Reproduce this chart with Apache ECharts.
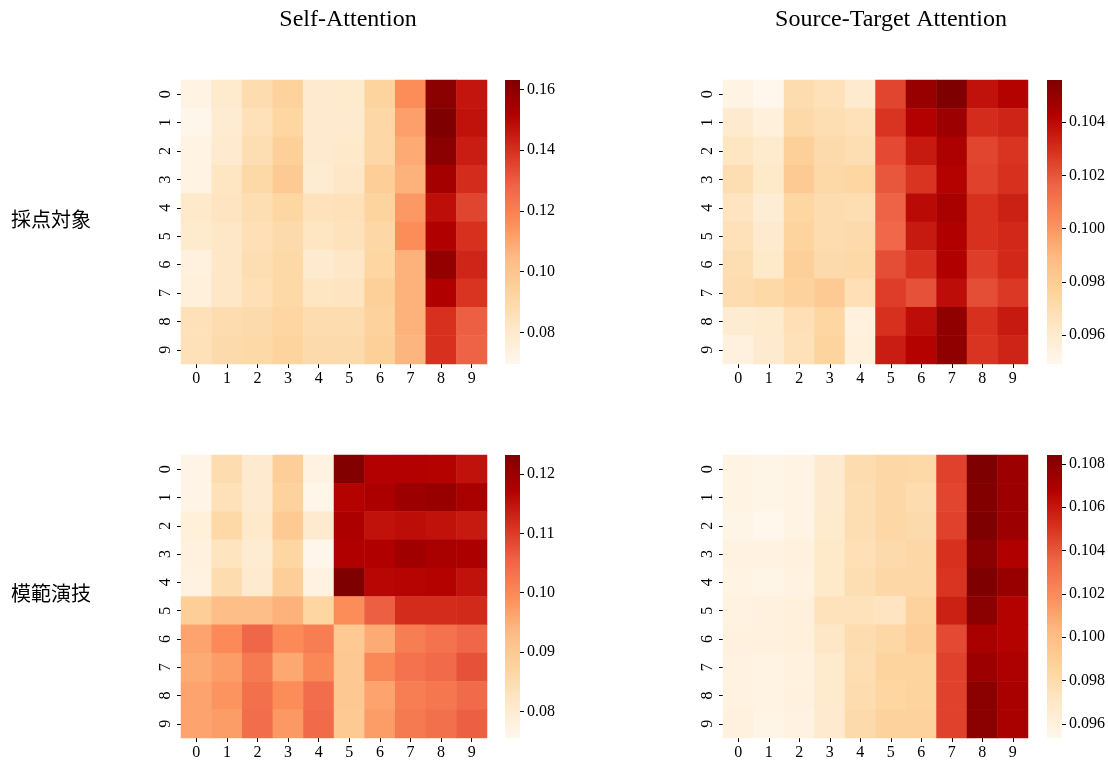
<!DOCTYPE html>
<html>
<head>
<meta charset="utf-8">
<script src="https://cdn.jsdelivr.net/npm/echarts@6/dist/echarts.min.js"></script>
<style>html,body{margin:0;padding:0;background:#fff}#c{width:1108px;height:762px}</style>
</head>
<body>
<div id="c"></div>
<script>
// ---------- data ----------
const categories = ['0','1','2','3','4','5','6','7','8','9'];
const columnTitles = ['Self-Attention', 'Source-Target Attention'];
const rowTitles = ['採点対象', '模範演技'];

// Self-Attention / 採点対象 (rows 0-9, cols 0-9)
const selfAttnTarget = [
  [0.0724,0.0799,0.0883,0.0939,0.0790,0.0799,0.0930,0.1164,0.1603,0.1463],
  [0.0700,0.0780,0.0855,0.0920,0.0790,0.0790,0.0911,0.1117,0.1631,0.1472],
  [0.0724,0.0790,0.0874,0.0948,0.0790,0.0808,0.0911,0.1089,0.1603,0.1444],
  [0.0724,0.0827,0.0902,0.0977,0.0780,0.0818,0.0958,0.1070,0.1547,0.1407],
  [0.0808,0.0836,0.0874,0.0920,0.0846,0.0855,0.0930,0.1135,0.1481,0.1351],
  [0.0799,0.0818,0.0864,0.0892,0.0827,0.0846,0.0911,0.1164,0.1519,0.1397],
  [0.0743,0.0818,0.0874,0.0902,0.0790,0.0818,0.0920,0.1070,0.1584,0.1425],
  [0.0752,0.0818,0.0864,0.0902,0.0827,0.0836,0.0948,0.1070,0.1519,0.1388],
  [0.0855,0.0883,0.0892,0.0920,0.0883,0.0883,0.0939,0.1070,0.1397,0.1294],
  [0.0855,0.0892,0.0902,0.0930,0.0892,0.0892,0.0948,0.1061,0.1397,0.1285]
];
// Source-Target Attention / 採点対象
const srcAttnTarget = [
  [0.09523,0.09495,0.09705,0.09673,0.09598,0.10239,0.10495,0.10559,0.10377,0.10420],
  [0.09598,0.09555,0.09726,0.09694,0.09673,0.10281,0.10426,0.10484,0.10303,0.10324],
  [0.09641,0.09608,0.09779,0.09715,0.09694,0.10228,0.10356,0.10442,0.10239,0.10281],
  [0.09694,0.09619,0.09811,0.09726,0.09747,0.10196,0.10281,0.10420,0.10249,0.10292],
  [0.09651,0.09576,0.09747,0.09705,0.09694,0.10164,0.10399,0.10452,0.10292,0.10335],
  [0.09673,0.09598,0.09758,0.09705,0.09715,0.10153,0.10356,0.10431,0.10292,0.10313],
  [0.09694,0.09619,0.09779,0.09715,0.09726,0.10217,0.10292,0.10431,0.10260,0.10313],
  [0.09705,0.09726,0.09769,0.09811,0.09683,0.10260,0.10207,0.10388,0.10217,0.10271],
  [0.09587,0.09608,0.09683,0.09747,0.09544,0.10292,0.10388,0.10516,0.10292,0.10356],
  [0.09544,0.09598,0.09673,0.09758,0.09555,0.10345,0.10420,0.10516,0.10281,0.10324]
];
// Self-Attention / 模範演技
const selfAttnModel = [
  [0.0765,0.0850,0.0803,0.0889,0.0774,0.1227,0.1172,0.1172,0.1170,0.1151],
  [0.0765,0.0836,0.0803,0.0879,0.0760,0.1170,0.1180,0.1199,0.1203,0.1184],
  [0.0784,0.0860,0.0812,0.0898,0.0803,0.1180,0.1151,0.1156,0.1151,0.1141],
  [0.0779,0.0827,0.0798,0.0869,0.0757,0.1175,0.1175,0.1194,0.1184,0.1180],
  [0.0774,0.0850,0.0803,0.0889,0.0774,0.1232,0.1165,0.1168,0.1170,0.1151],
  [0.0889,0.0927,0.0927,0.0946,0.0869,0.0994,0.1060,0.1118,0.1118,0.1122],
  [0.0965,0.0998,0.1051,0.0998,0.1017,0.0898,0.0955,0.1017,0.1032,0.1051],
  [0.0955,0.0974,0.1022,0.0960,0.1003,0.0903,0.1003,0.1032,0.1046,0.1075],
  [0.0965,0.0984,0.1036,0.0994,0.1041,0.0903,0.0965,0.1017,0.1027,0.1046],
  [0.0965,0.0974,0.1041,0.0979,0.1046,0.0898,0.0974,0.1022,0.1036,0.1060]
];
// Source-Target Attention / 模範演技
const srcAttnModel = [
  [0.09574,0.09561,0.09574,0.09666,0.09796,0.09835,0.09822,0.10462,0.10841,0.10750],
  [0.09574,0.09561,0.09574,0.09666,0.09783,0.09835,0.09796,0.10449,0.10828,0.10750],
  [0.09561,0.09540,0.09574,0.09679,0.09783,0.09835,0.09809,0.10462,0.10841,0.10750],
  [0.09587,0.09587,0.09600,0.09692,0.09770,0.09809,0.09835,0.10515,0.10802,0.10684],
  [0.09574,0.09561,0.09587,0.09692,0.09783,0.09835,0.09835,0.10501,0.10841,0.10763],
  [0.09587,0.09600,0.09613,0.09744,0.09744,0.09731,0.09875,0.10567,0.10802,0.10671],
  [0.09600,0.09600,0.09613,0.09705,0.09796,0.09835,0.09901,0.10436,0.10710,0.10671],
  [0.09587,0.09574,0.09600,0.09679,0.09783,0.09862,0.09862,0.10462,0.10750,0.10697],
  [0.09587,0.09574,0.09600,0.09679,0.09796,0.09848,0.09862,0.10462,0.10802,0.10710],
  [0.09600,0.09561,0.09587,0.09666,0.09809,0.09875,0.09875,0.10462,0.10802,0.10710]
];

// colour-bar ranges and tick labels
const cbRangeSelfTarget = [0.0696, 0.1631];
const cbRangeSrcTarget  = [0.09491, 0.10559];
const cbRangeSelfModel  = [0.0755, 0.1232];
const cbRangeSrcModel   = [0.09535, 0.10841];
const cbTicksSelfTarget = [0.08, 0.10, 0.12, 0.14, 0.16];
const cbTicksSrcTarget  = [0.096, 0.098, 0.100, 0.102, 0.104];
const cbTicksSelfModel  = [0.08, 0.09, 0.10, 0.11, 0.12];
const cbTicksSrcModel   = [0.096, 0.098, 0.100, 0.102, 0.104, 0.106, 0.108];

// ---------- styling ----------
const ORRD = ['#fff7ec','#fee8c8','#fdd49e','#fdbb84','#fc8d59','#ef6548','#d7301f','#b30000','#7f0000'];
const SERIF = 'Liberation Serif';
const TICK_FS = 16;

const panels = [
  {m: selfAttnTarget, range: cbRangeSelfTarget, ticks: cbTicksSelfTarget, dec: 2,
   g: {left: 181, top: 80, width: 306, height: 284}, cb: {left: 505, top: 80, width: 15, height: 284}},
  {m: srcAttnTarget, range: cbRangeSrcTarget, ticks: cbTicksSrcTarget, dec: 3,
   g: {left: 723, top: 80, width: 305, height: 284}, cb: {left: 1047, top: 80, width: 15, height: 284}},
  {m: selfAttnModel, range: cbRangeSelfModel, ticks: cbTicksSelfModel, dec: 2,
   g: {left: 181, top: 455, width: 306, height: 283}, cb: {left: 505, top: 455, width: 15, height: 283}},
  {m: srcAttnModel, range: cbRangeSrcModel, ticks: cbTicksSrcModel, dec: 3,
   g: {left: 723, top: 455, width: 305, height: 283}, cb: {left: 1047, top: 455, width: 15, height: 283}}
];

const grid = [], xAxis = [], yAxis = [], series = [], visualMap = [];
const labelStyle = {fontFamily: SERIF, fontSize: TICK_FS, color: '#000'};
const tickStyle = {show: true, length: 4, lineStyle: {color: '#000', width: 1}};

panels.forEach((p, i) => {
  const gi = grid.length;
  grid.push(Object.assign({containLabel: false}, p.g));
  grid.push(Object.assign({containLabel: false}, p.cb));

  xAxis.push({type: 'category', gridIndex: gi, data: categories,
    axisLine: {show: false}, axisTick: Object.assign({alignWithLabel: true}, tickStyle),
    axisLabel: Object.assign({margin: 7}, labelStyle), splitLine: {show: false}, splitArea: {show: false}});
  yAxis.push({type: 'category', gridIndex: gi, data: categories, inverse: true,
    axisLine: {show: false}, axisTick: Object.assign({alignWithLabel: true}, tickStyle),
    axisLabel: Object.assign({margin: 7, rotate: 90}, labelStyle), splitLine: {show: false}, splitArea: {show: false}});

  xAxis.push({type: 'category', gridIndex: gi + 1, data: [''], show: false, boundaryGap: true});
  yAxis.push({type: 'value', gridIndex: gi + 1, position: 'right', min: p.range[0], max: p.range[1],
    axisLine: {show: false}, splitLine: {show: false},
    axisTick: Object.assign({customValues: p.ticks}, tickStyle),
    axisLabel: Object.assign({customValues: p.ticks, margin: 7,
      formatter: v => Number(v).toFixed(p.dec)}, labelStyle)});

  const data = [];
  p.m.forEach((row, r) => row.forEach((v, c) => data.push([c, r, v])));
  const si = series.length;
  series.push({type: 'heatmap', xAxisIndex: gi, yAxisIndex: gi, data: data,
    itemStyle: {borderWidth: 0}, emphasis: {disabled: true}, silent: true, progressive: 0});
  series.push({type: 'bar', xAxisIndex: gi + 1, yAxisIndex: gi + 1, data: [p.range[1]],
    barWidth: '100%', silent: true,
    itemStyle: {color: new echarts.graphic.LinearGradient(0, 1, 0, 0,
      ORRD.map((c, k) => ({offset: k / (ORRD.length - 1), color: c})))}});
  visualMap.push({type: 'continuous', show: false, seriesIndex: si, dimension: 2,
    min: p.range[0], max: p.range[1], inRange: {color: ORRD}});
});

const title = [
  {text: columnTitles[0], left: 348, top: 8, textAlign: 'center',
   textStyle: {fontFamily: SERIF, fontSize: 24, fontWeight: 'normal', color: '#000'}},
  {text: columnTitles[1], left: 891, top: 8, textAlign: 'center',
   textStyle: {fontFamily: SERIF, fontSize: 24, fontWeight: 'normal', color: '#000'}},
  {text: rowTitles[0], left: 51, top: 209, textAlign: 'center',
   textStyle: {fontFamily: 'Noto Sans CJK JP', fontSize: 20, fontWeight: 'normal', color: '#000'}},
  {text: rowTitles[1], left: 51, top: 583, textAlign: 'center',
   textStyle: {fontFamily: 'Noto Sans CJK JP', fontSize: 20, fontWeight: 'normal', color: '#000'}}
];
title.forEach(t => { t.padding = 0; });

const chart = echarts.init(document.getElementById('c'), null, {renderer: 'canvas'});
chart.setOption({backgroundColor: '#fff', animation: false, title, grid, xAxis, yAxis, visualMap, series});
</script>
</body>
</html>
